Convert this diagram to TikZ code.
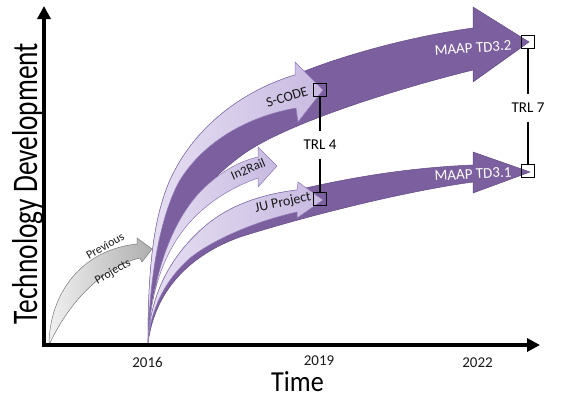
\documentclass[tikz,border=0pt]{standalone}
\usepackage{fontspec}
\setmainfont{Carlito}
\usetikzlibrary{arrows.meta}
\definecolor{darkP}{RGB}{124,95,159}
\definecolor{darkPline}{RGB}{98,74,132}
\definecolor{lightPa}{RGB}{230,223,242}
\definecolor{lightPb}{RGB}{200,186,225}
\definecolor{lightPline}{RGB}{140,118,180}
\definecolor{grayA}{RGB}{240,240,240}
\definecolor{grayB}{RGB}{175,175,175}
\definecolor{grayLine}{RGB}{120,120,120}
\definecolor{txt}{RGB}{25,25,25}
\begin{document}
\begin{tikzpicture}[x=1pt,y=-1pt,
  darkarrow/.style={fill=darkP, draw=darkPline, line width=0.5pt},
  lightarrow/.style={left color=lightPa, right color=lightPb, draw=lightPline, line width=0.5pt},
  grayarrow/.style={left color=grayA, right color=grayB, draw=grayLine, line width=0.5pt},
  lbl/.style={font=\fontsize{15}{18}\selectfont, text=txt},
  onlight/.style={font=\fontsize{14}{17}\selectfont, text=txt, inner sep=0pt},
  ondark/.style={font=\fontsize{15}{18}\selectfont, text=white, inner sep=0pt},
  ongray/.style={font=\fontsize{12}{14}\selectfont, text=txt, inner sep=0pt},
  tbox/.style={draw=black, line width=1.3pt, minimum size=13pt, inner sep=0pt},
  trl/.style={font=\fontsize{15}{18}\selectfont, text=black, inner xsep=2pt, inner ysep=8.5pt},
  trlline/.style={draw=black, line width=1.3pt},
  axisline/.style={draw=black, line width=4pt, line cap=rect, -{Triangle[length=13pt,width=13pt]}}
]
\useasboundingbox (0,0) rectangle (561,397);

% MAAP TD3.2 (dark, back)
\path[darkarrow] (148,343) .. controls (150,260) and (185,195) .. (245,153)
  .. controls (290,122) and (400,88) .. (473,70)
  -- (473,82) -- (529,42) -- (473,7) -- (473,28)
  .. controls (400,38) and (330,60) .. (295,75)
  .. controls (245,90) and (195,125) .. (170,180)
  .. controls (155,215) and (148,260) .. (148,343) -- cycle;

% S-CODE (light)
\path[lightarrow] (148,343) .. controls (148,260) and (155,215) .. (170,180)
  .. controls (195,125) and (245,90) .. (295,75)
  -- (295,62) -- (323,90) -- (298,122) -- (296,108)
  .. controls (250,116) and (205,140) .. (180,180)
  .. controls (160,215) and (149,280) .. (148,343) -- cycle;

% MAAP TD3.1 (dark)
\path[darkarrow] (148,343) .. controls (155,290) and (190,255) .. (240,237)
  .. controls (300,218) and (400,192) .. (473,182)
  -- (473,193) -- (530,172) -- (473,152) -- (473,165)
  .. controls (400,168) and (340,180) .. (297,190)
  .. controls (265,194) and (235,203) .. (210,222)
  .. controls (175,250) and (150,290) .. (148,343) -- cycle;

% JU Project (light)
\path[lightarrow] (148,343) .. controls (150,290) and (175,250) .. (210,222)
  .. controls (235,203) and (265,194) .. (297,190)
  -- (298,182) -- (323,200) -- (297,218) -- (297,212)
  .. controls (260,220) and (215,238) .. (190,258)
  .. controls (165,280) and (150,310) .. (148,343) -- cycle;

% In2Rail (light)
\path[lightarrow] (148,343) .. controls (152,270) and (175,215) .. (205,187)
  .. controls (222,171) and (240,161) .. (258,157)
  -- (258,147) -- (277,166) -- (258,187) -- (258,178)
  .. controls (235,186) and (210,200) .. (190,222)
  .. controls (165,250) and (150,290) .. (148,343) -- cycle;

% Previous Projects (gray)
\path[grayarrow] (49,343) .. controls (50,295) and (80,250) .. (137,244)
  -- (137,238) -- (152,249) -- (142,262) -- (140,258)
  .. controls (105,266) and (70,300) .. (50,343) -- cycle;

% arrow labels
\node[onlight, rotate=17] (lscode) at (287,97) {S-CODE};
\node[onlight, font=\fontsize{13}{16}\selectfont, rotate=23] (lin2rail) at (248,169) {In2Rail};
\node[onlight, rotate=12] (lju) at (283,203) {JU Project};
\node[ondark, rotate=4] (ltd32) at (473,48) {MAAP TD3.2};
\node[ondark, rotate=3] (ltd31) at (473,174) {MAAP TD3.1};
\node[ongray, rotate=30] (lprev) at (105,246) {Previous};
\node[ongray, rotate=30] (lproj) at (113,272) {Projects};

% TRL markers
\node[tbox] (b1) at (320,90) {};
\node[tbox] (b2) at (320,199) {};
\node[tbox] (b3) at (528,42) {};
\node[tbox] (b4) at (528,171) {};
\node[trl] (trl4) at (320,145) {TRL 4};
\node[trl] (trl7) at (528,108) {TRL 7};
\draw[trlline] (b1) -- (trl4);
\draw[trlline] (trl4) -- (b2);
\draw[trlline] (b3) -- (trl7);
\draw[trlline] (trl7) -- (b4);

% axes
\coordinate (O) at (44,345);
\coordinate (Ytop) at (44,6);
\coordinate (Xend) at (540,345);
\draw[axisline] (O) -- (Ytop);
\draw[axisline] (O) -- (Xend);

% axis labels
\node[lbl, anchor=base] (y2016) at (147.5,367) {2016};
\node[lbl, anchor=base] (y2019) at (319,365) {2019};
\node[lbl, anchor=base] (y2022) at (477.5,367) {2022};
\node[font=\fontsize{29}{34}\selectfont, anchor=base, inner sep=0pt] (ltime) at (297.5,391) {\scalebox{0.9}[1]{Time}};
\node[font=\fontsize{36}{40}\selectfont, rotate=90, anchor=base, inner sep=0pt] (ltech) at (37,183.5) {\scalebox{0.76}[1]{Technology Development}};
\end{tikzpicture}
\end{document}
